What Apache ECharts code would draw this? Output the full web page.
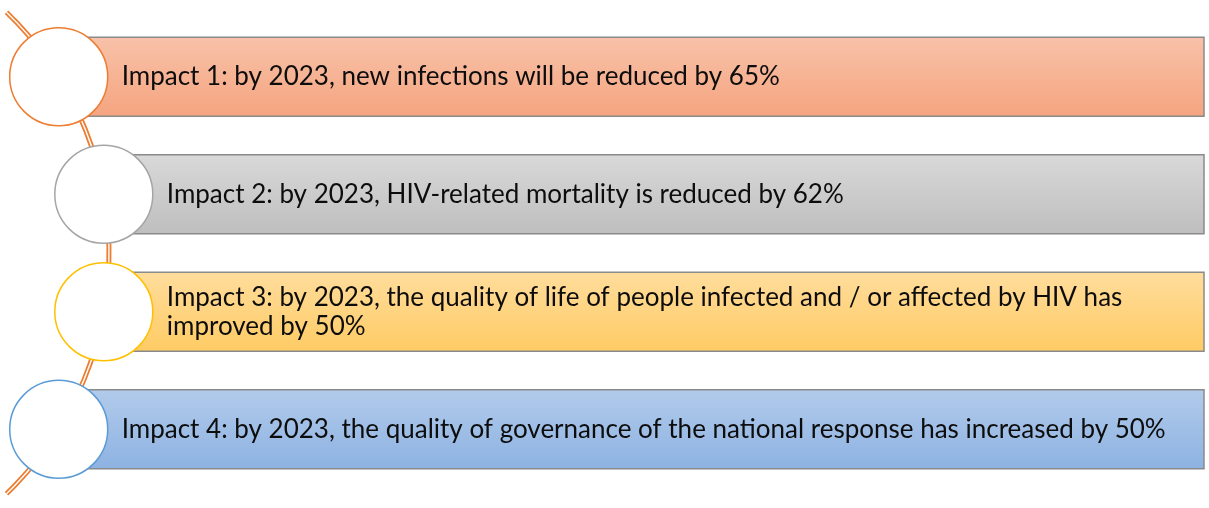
<!DOCTYPE html>
<html>
<head>
  <meta charset="utf-8">
  <script src="https://cdn.jsdelivr.net/npm/echarts@6/dist/echarts.min.js"></script>
</head>
<body style="margin:0;background:#fff">
  <div id="main" style="width:1209px;height:508px"></div>
  <script>
    // 文本与配色
    var impacts = [
      'Impact 1: by 2023, new infections will be reduced by 65%',
      'Impact 2: by 2023, HIV-related mortality is reduced by 62%',
      'Impact 3: by 2023, the quality of life of people infected and / or affected by HIV has\nimproved by 50%',
      'Impact 4: by 2023, the quality of governance of the national response has increased by 50%'
    ];
    var fillTop = ['#f8c2a9', '#d9d9d9', '#ffdd9d', '#b2cbeb'];
    var fillBottom = ['#f5a47f', '#bebebe', '#ffcb63', '#8db2e2'];
    var ringColors = ['#ed7d31', '#a5a5a5', '#ffc000', '#5b9bd5'];

    // 弧线参数（相对于 grid）
    var ARC_R = 334;
    var ARC_CX = -225;
    var CIRCLE_R = 49;

    var myChart = echarts.init(document.getElementById('main'), null, { renderer: 'canvas' });

    function renderItem(params, api) {
      var cs = params.coordSys;
      var idx = api.value(0);
      var yc = api.coord([0, idx])[1];
      var band = api.size([0, 1])[1];
      var h = band * 0.672;
      var cyArc = cs.y + cs.height / 2;
      var dy = yc - cyArc;
      var xc = cs.x + ARC_CX + Math.sqrt(ARC_R * ARC_R - dy * dy);
      var right = cs.x + cs.width - 5;
      var children = [];
      if (idx === 0) {
        // 背后的双线弧
        var arcShape = { cx: cs.x + ARC_CX, cy: cyArc, r: ARC_R, startAngle: -0.805, endAngle: 0.805 };
        children.push({ type: 'arc', shape: arcShape, style: { stroke: '#ed7d31', lineWidth: 5, fill: null } });
        children.push({ type: 'arc', shape: arcShape, style: { stroke: '#ffffff', lineWidth: 1.4, fill: null } });
      }
      children.push({
        type: 'rect',
        shape: { x: xc, y: yc - h / 2, width: right - xc, height: h },
        style: {
          fill: new echarts.graphic.LinearGradient(0, 0, 0, 1, [
            { offset: 0, color: fillTop[idx] },
            { offset: 1, color: fillBottom[idx] }
          ]),
          stroke: '#8a8a8a',
          lineWidth: 1.5
        }
      });
      children.push({
        type: 'circle',
        shape: { cx: xc, cy: yc, r: CIRCLE_R },
        style: { fill: '#ffffff', stroke: ringColors[idx], lineWidth: 1.5 }
      });
      children.push({
        type: 'text',
        x: xc + CIRCLE_R + 14,
        y: yc,
        style: {
          text: impacts[idx],
          font: '26px Lato',
          fill: '#0d0d0d',
          verticalAlign: 'middle',
          lineHeight: 29
        }
      });
      return { type: 'group', children: children };
    }

    var option = {
      animation: false,
      grid: { left: 0, right: 0, top: 18, bottom: 20 },
      xAxis: { type: 'value', min: 0, max: 1209, show: false },
      yAxis: { type: 'category', data: impacts.map(function (_, i) { return i; }), inverse: true, show: false },
      series: [{
        type: 'custom',
        renderItem: renderItem,
        data: impacts.map(function (_, i) { return [i]; })
      }]
    };
    myChart.setOption(option);
  </script>
</body>
</html>
